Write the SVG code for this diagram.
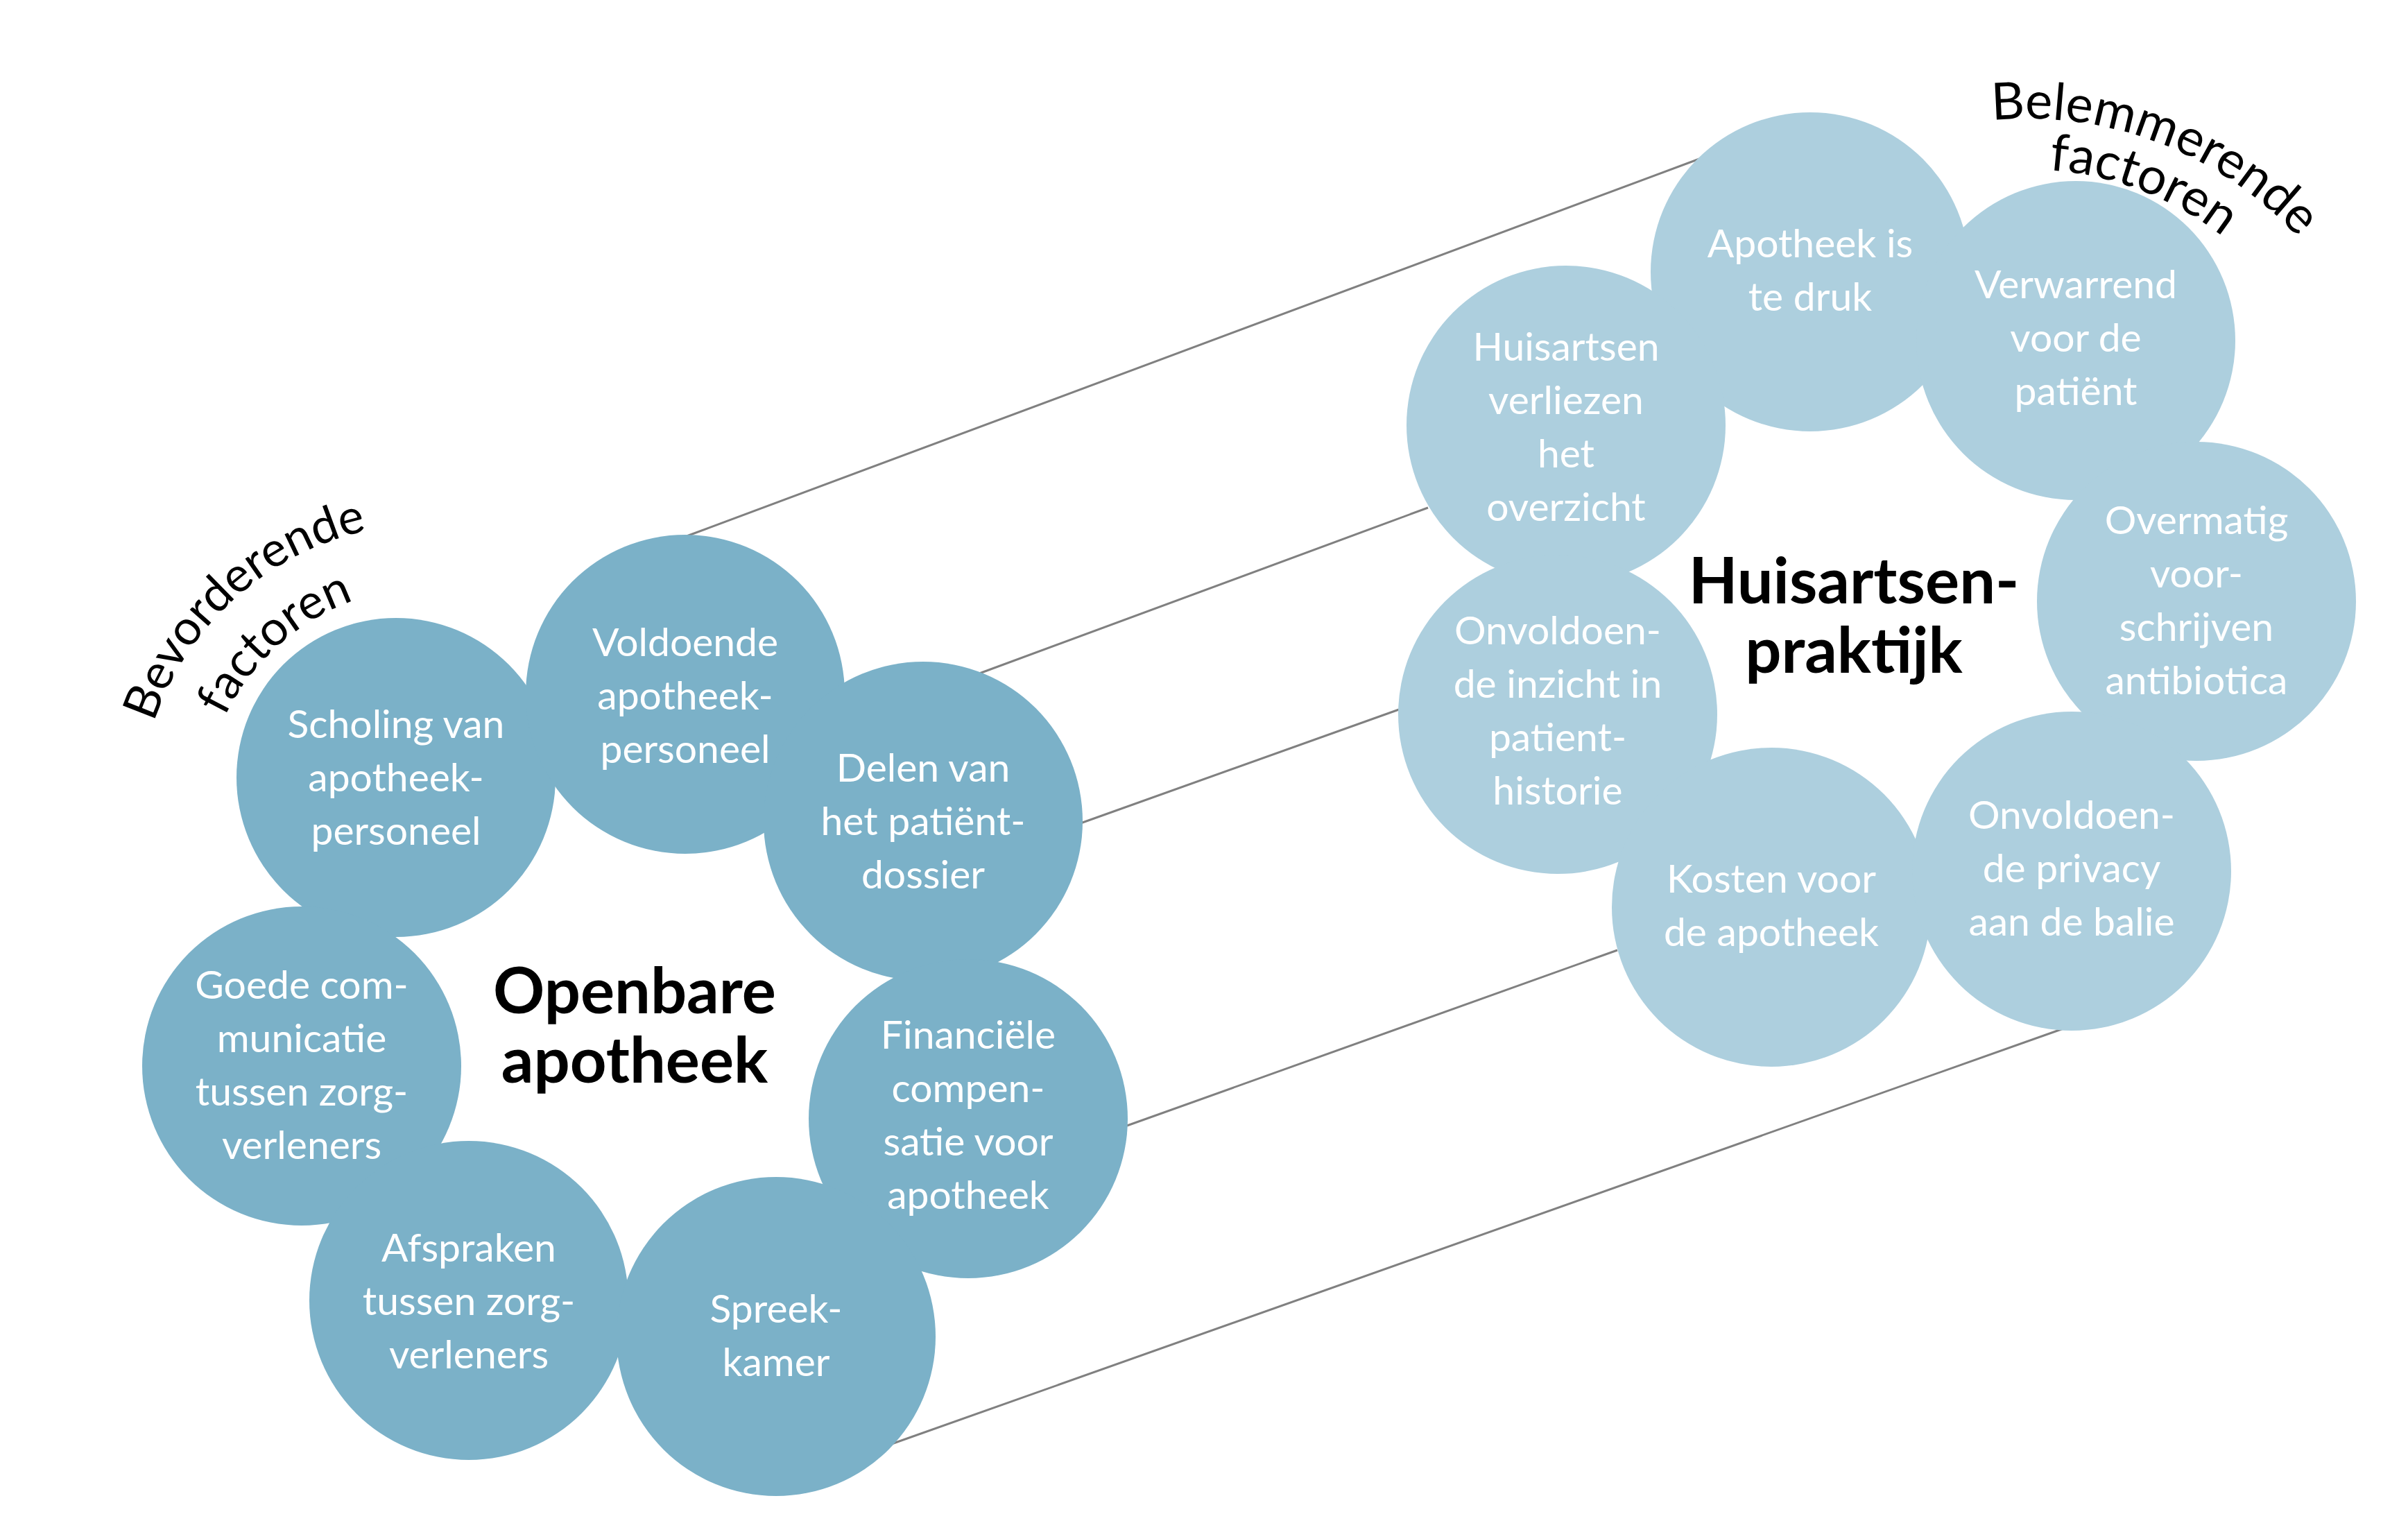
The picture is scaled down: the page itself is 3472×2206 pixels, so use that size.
<svg xmlns="http://www.w3.org/2000/svg" width="3472" height="2206" viewBox="0 0 3472 2206">
<style>
.l{fill:#7BB1C8}
.r{fill:#ADCFDE}
.t{font-family:Lato,"Liberation Sans",sans-serif;font-size:57px;fill:#ffffff;text-anchor:middle}
.c{font-family:Lato,"Liberation Sans",sans-serif;font-size:92px;font-weight:bold;fill:#000000;text-anchor:middle}
.a{font-family:Lato,"Open Sans","Liberation Sans",sans-serif;fill:#000000}
.k{stroke:#808080;stroke-width:3;fill:none}
</style>
<defs>
<path id="arcL1" d="M 200.3 1189.7 A 420 420 0 0 1 678.5 759.1"/>
<path id="arcL2" d="M 292.2 1186.4 A 328 328 0 0 1 665.6 850.2"/>
<path id="arcR1" d="M 2663.6 237.8 A 533 533 0 0 1 3426.0 530.5"/>
<path id="arcR2" d="M 2699.0 301.7 A 460 460 0 0 1 3356.9 554.2"/>
</defs>
<rect width="3472" height="2206" fill="#ffffff"/>
<g id="connectors">
<line class="k" x1="990" y1="773" x2="2453" y2="228"/>
<line class="k" x1="1412" y1="971" x2="2059" y2="732"/>
<line class="k" x1="1558" y1="1187" x2="2017" y2="1023"/>
<line class="k" x1="1625" y1="1623" x2="2332" y2="1370"/>
<line class="k" x1="1277" y1="2085" x2="2978" y2="1482"/>
</g>
<g id="left-cluster">
<g id="scholing"><circle class="l" cx="571" cy="1121" r="230"/><text class="t"><tspan x="571" y="1064">Scholing van</tspan><tspan x="571" y="1141">apotheek-</tspan><tspan x="571" y="1218">personeel</tspan></text></g>
<g id="voldoende"><circle class="l" cx="988" cy="1001" r="230"/><text class="t"><tspan x="988" y="946">Voldoende</tspan><tspan x="988" y="1023">apotheek-</tspan><tspan x="988" y="1100">personeel</tspan></text></g>
<g id="delen"><circle class="l" cx="1331" cy="1184" r="230"/><text class="t"><tspan x="1331" y="1127">Delen van</tspan><tspan x="1331" y="1204">het patiënt-</tspan><tspan x="1331" y="1281">dossier</tspan></text></g>
<g id="goede"><circle class="l" cx="435" cy="1537" r="230"/><text class="t"><tspan x="435" y="1440">Goede com-</tspan><tspan x="435" y="1517">municatie</tspan><tspan x="435" y="1594">tussen zorg-</tspan><tspan x="435" y="1671">verleners</tspan></text></g>
<g id="financiele"><circle class="l" cx="1396" cy="1613" r="230"/><text class="t"><tspan x="1396" y="1512">Financiële</tspan><tspan x="1396" y="1589">compen-</tspan><tspan x="1396" y="1666">satie voor</tspan><tspan x="1396" y="1743">apotheek</tspan></text></g>
<g id="afspraken"><circle class="l" cx="676" cy="1875" r="230"/><text class="t"><tspan x="676" y="1819">Afspraken</tspan><tspan x="676" y="1896">tussen zorg-</tspan><tspan x="676" y="1973">verleners</tspan></text></g>
<g id="spreekkamer"><circle class="l" cx="1119" cy="1927" r="230"/><text class="t"><tspan x="1119" y="1907">Spreek-</tspan><tspan x="1119" y="1984">kamer</tspan></text></g>
<g id="openbare-apotheek"><text class="c"><tspan x="915" y="1461">Openbare</tspan><tspan x="915" y="1561">apotheek</tspan></text></g>
</g>
<g id="right-cluster">
<g id="apotheek-druk"><circle class="r" cx="2610" cy="392" r="230"/><text class="t"><tspan x="2610" y="371">Apotheek is</tspan><tspan x="2610" y="448">te druk</tspan></text></g>
<g id="verwarrend"><circle class="r" cx="2993" cy="491" r="230"/><text class="t"><tspan x="2993" y="430">Verwarrend</tspan><tspan x="2993" y="507">voor de</tspan><tspan x="2993" y="584">patiënt</tspan></text></g>
<g id="huisartsen-verliezen"><circle class="r" cx="2258" cy="613" r="230"/><text class="t"><tspan x="2258" y="520">Huisartsen</tspan><tspan x="2258" y="597">verliezen</tspan><tspan x="2258" y="674">het</tspan><tspan x="2258" y="751">overzicht</tspan></text></g>
<g id="overmatig"><circle class="r" cx="3167" cy="867" r="230"/><text class="t"><tspan x="3167" y="770">Overmatig</tspan><tspan x="3167" y="847">voor-</tspan><tspan x="3167" y="924">schrijven</tspan><tspan x="3167" y="1001">antibiotica</tspan></text></g>
<g id="inzicht"><circle class="r" cx="2246" cy="1030" r="230"/><text class="t"><tspan x="2246" y="929">Onvoldoen-</tspan><tspan x="2246" y="1006">de inzicht in</tspan><tspan x="2246" y="1083">patient-</tspan><tspan x="2246" y="1160">historie</tspan></text></g>
<g id="kosten"><circle class="r" cx="2554" cy="1308" r="230"/><text class="t"><tspan x="2554" y="1287">Kosten voor</tspan><tspan x="2554" y="1364">de apotheek</tspan></text></g>
<g id="privacy"><circle class="r" cx="2987" cy="1256" r="230"/><text class="t"><tspan x="2987" y="1195">Onvoldoen-</tspan><tspan x="2987" y="1272">de privacy</tspan><tspan x="2987" y="1349">aan de balie</tspan></text></g>
<g id="huisartsenpraktijk"><text class="c"><tspan x="2673" y="870">Huisartsen-</tspan><tspan x="2673" y="970">praktijk</tspan></text></g>
</g>
<g id="labels">
<text class="a" font-size="70"><textPath href="#arcL1" startOffset="50%" text-anchor="middle">Bevorderende</textPath></text>
<text class="a" font-size="70"><textPath href="#arcL2" startOffset="50%" text-anchor="middle">factoren</textPath></text>
<text class="a" font-size="74"><textPath href="#arcR1" startOffset="50%" text-anchor="middle">Belemmerende</textPath></text>
<text class="a" font-size="74"><textPath href="#arcR2" startOffset="50%" text-anchor="middle">factoren</textPath></text>
</g>
</svg>
